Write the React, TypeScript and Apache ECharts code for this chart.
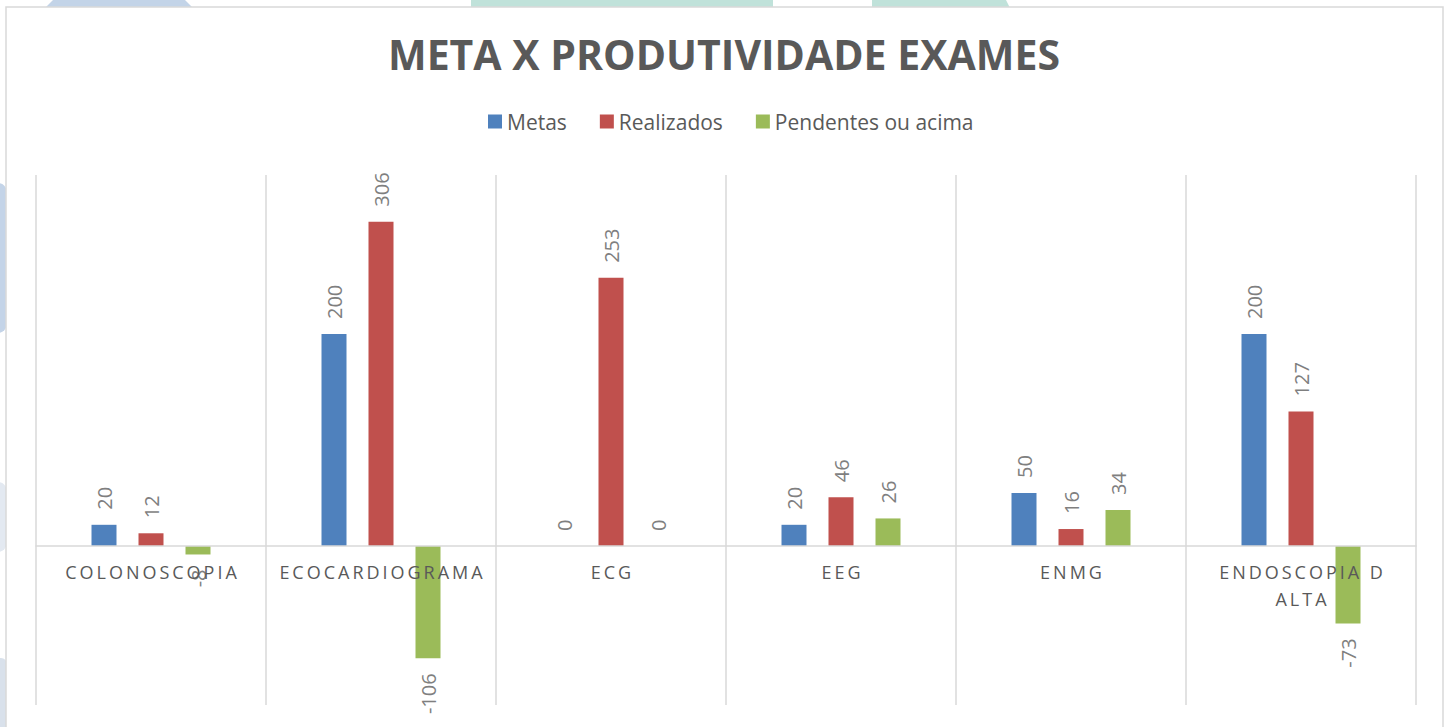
import React, { useEffect, useRef } from "react";
import * as echarts from "echarts";

const categories = ["COLONOSCOPIA", "ECOCARDIOGRAMA", "ECG", "EEG", "ENMG", "ENDOSCOPIA D ALTA"];
const seriesNames = ["Metas", "Realizados", "Pendentes ou acima"];
const metas = [20, 200, 0, 20, 50, 200];
const realizados = [12, 306, 253, 46, 16, 127];
const pendentes = [-8, -106, 0, 26, 34, -73];
const colors = ["#4F81BD", "#C0504D", "#9BBB59"];
const yMin = -150;
const yMax = 350;

const FONT = "'Open Sans', 'Noto Sans', sans-serif";
const GRID_TOP = 175;
const GRID_BOTTOM = 22;
const CHART_H = 727;

function spacedLabel(name: string): string {
  const words = name.split(" ");
  const lines: string[] = [];
  let cur = "";
  for (const w of words) {
    const cand = cur ? cur + " " + w : w;
    if (cand.length > 14 && cur) {
      lines.push(cur);
      cur = w;
    } else cur = cand;
  }
  if (cur) lines.push(cur);
  return lines.map((l) => l.split("").join("\u2009")).join("\n");
}

function makeData(values: number[]) {
  return values.map((v) =>
    v < 0 ? { value: v, label: { position: "bottom", align: "right" } } : { value: v }
  );
}

export default function App() {
  const ref = useRef<HTMLDivElement>(null);
  useEffect(() => {
    if (!ref.current) return;
    const chart = echarts.init(ref.current, undefined, { renderer: "svg" });
    const all = [metas, realizados, pendentes];
    const gridH = CHART_H - GRID_TOP - GRID_BOTTOM;
    const zeroFromBottom = ((0 - yMin) / (yMax - yMin)) * gridH;
    chart.setOption({
      animation: false,
      backgroundColor: "#ffffff",
      graphic: [
        { type: "polygon", z: -10, shape: { points: [[53, 0], [185, 0], [193, 8], [45, 8]] }, style: { fill: "#c3d4e8" } },
        { type: "rect", z: -10, shape: { x: 471, y: 0, width: 302, height: 8 }, style: { fill: "#c0e2da" } },
        { type: "polygon", z: -10, shape: { points: [[872, 0], [1006, 0], [1010, 8], [872, 8]] }, style: { fill: "#c0e2da" } },
        { type: "rect", z: -10, shape: { x: -12, y: 183, width: 19, height: 150, r: 9 }, style: { fill: "#c4d4e8" } },
        { type: "rect", z: -10, shape: { x: -12, y: 482, width: 19, height: 70, r: 9 }, style: { fill: "#e3e9f1" } },
        { type: "rect", z: -10, shape: { x: -12, y: 658, width: 19, height: 80, r: 6 }, style: { fill: "#d9e1eb" } },
        {
          type: "rect",
          z: -9,
          shape: { x: 6, y: 7, width: 1437, height: 740 },
          style: { fill: "#ffffff", stroke: "#d9d9d9", lineWidth: 1.5 },
        },
      ],
      title: {
        text: "META X PRODUTIVIDADE EXAMES",
        left: "center",
        top: 28,
        textStyle: { fontFamily: FONT, fontWeight: "bold", fontSize: 41, color: "#595959" },
      },
      legend: {
        left: 488,
        top: 111,
        padding: 0,
        itemWidth: 14,
        itemHeight: 14,
        itemGap: 33,
        icon: "rect",
        textStyle: { fontFamily: FONT, fontSize: 21, color: "#595959", padding: [0, 0, 0, 0] },
        data: seriesNames,
      },
      grid: {
        left: 36,
        right: 32,
        top: GRID_TOP,
        bottom: GRID_BOTTOM,
        containLabel: false,
        outerBoundsMode: "none",
      },
      xAxis: {
        type: "category",
        data: categories,
        position: "bottom",
        offset: -zeroFromBottom,
        z: 10,
        axisLine: { show: true, onZero: false, lineStyle: { color: "#d9d9d9", width: 1.5 } },
        axisTick: { show: false },
        splitLine: { show: true, lineStyle: { color: "#d9d9d9", width: 1.5 } },
        axisLabel: {
          interval: 0,
          margin: 12,
          fontFamily: FONT,
          fontSize: 18,
          lineHeight: 27,
          color: "#595959",
          formatter: (v: string) => spacedLabel(v),
        },
      },
      yAxis: {
        type: "value",
        min: yMin,
        max: yMax,
        show: false,
        splitLine: { show: false },
      },
      series: seriesNames.map((name, i) => ({
        name,
        type: "bar",
        barWidth: 25,
        barGap: "88%",
        itemStyle: { color: colors[i] },
        label: {
          show: true,
          position: "top",
          rotate: 90,
          align: "left",
          verticalAlign: "middle",
          distance: 15,
          fontFamily: FONT,
          fontSize: 20,
          color: "#7f7f7f",
        },
        data: makeData(all[i]),
      })),
    });
    return () => chart.dispose();
  }, []);
  return (
    <div
      ref={ref}
      style={{ position: "fixed", left: 0, top: 0, width: 1448, height: 727, background: "#fff" }}
    />
  );
}
